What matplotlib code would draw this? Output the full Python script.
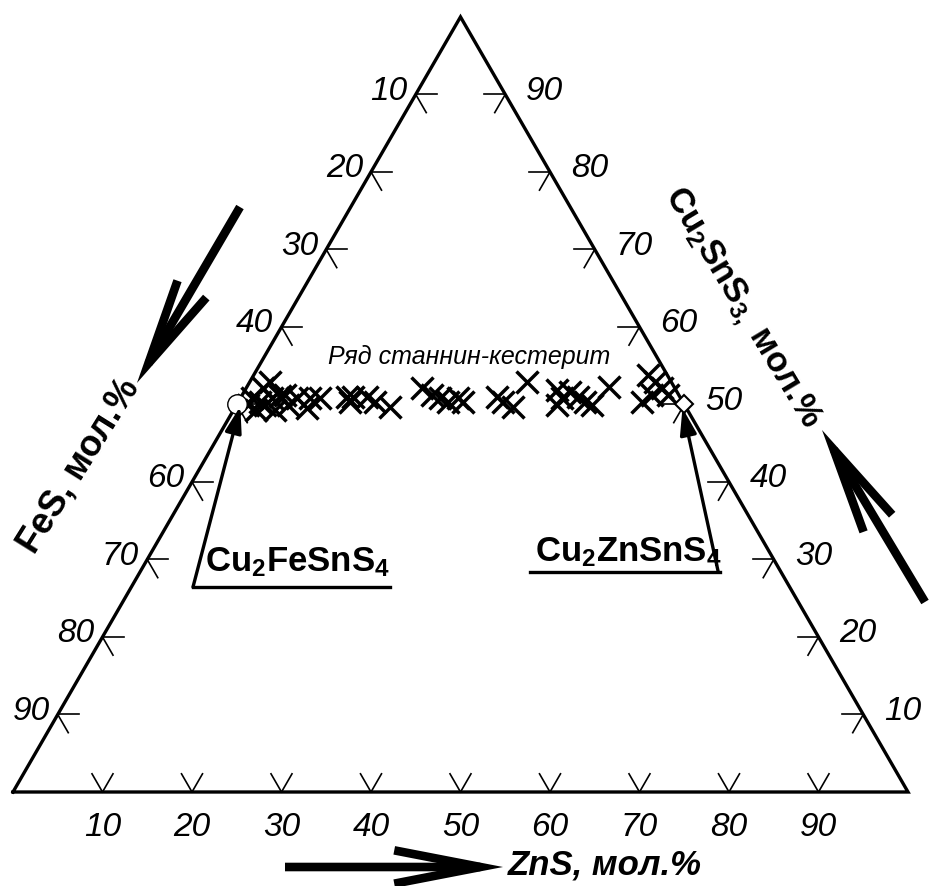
import numpy as np
import matplotlib
matplotlib.use("Agg")
import matplotlib.pyplot as plt
from matplotlib.patches import FancyArrowPatch, ArrowStyle

plt.rcParams['font.family'] = ['Liberation Sans', 'DejaVu Sans']
plt.rcParams['mathtext.fontset'] = 'custom'
plt.rcParams['mathtext.rm'] = 'Liberation Sans'
plt.rcParams['mathtext.it'] = 'Liberation Sans:italic'
plt.rcParams['mathtext.bf'] = 'Liberation Sans:bold'
plt.rcParams['mathtext.default'] = 'regular'

# Stannite-kesterite series compositions, mol.% (FeS = 100 - ZnS - Cu2SnS3)
ZNS = [1.3, 1.3, 2.5, 2.4, 1.9, 3.2, 2.3, 3.5, 4.6, 4.3, 4.8, 5.8, 6.3, 8.1, 7.8, 8.9,
       11.8, 12.5, 12.5, 14.1, 15.3, 17.3, 19.7, 21.2, 22.3, 23.4, 24.3, 25.1,
       28.6, 29.6, 31.0, 31.0, 34.8, 35.9, 35.8, 36.4, 37.6, 38.8, 39.7, 40.4,
       45.1, 44.0, 45.8, 45.3, 46.5, 47.6]
CU2SNS3 = [49.9, 50.8, 49.3, 50.3, 52.1, 49.9, 52.9, 50.8, 49.3, 51.1, 51.2, 49.9, 50.8, 49.5, 50.8, 50.8,
           51.0, 50.3, 51.0, 51.0, 50.3, 49.7, 52.1, 51.2, 50.8, 50.3, 50.8, 50.3,
           51.0, 50.3, 49.7, 52.9, 51.9, 50.8, 49.9, 51.6, 51.0, 50.3, 49.9, 52.3,
           50.3, 53.8, 51.2, 52.9, 52.1, 51.2]

# End members (ZnS, Cu2SnS3)
STANNITE = (0.0, 50.0)     # Cu2FeSnS4
KESTERITE = (50.0, 50.0)   # Cu2ZnSnS4

TICKS = [10, 20, 30, 40, 50, 60, 70, 80, 90]
LEFT_LABELS = [10, 20, 30, 40, 60, 70, 80, 90]


def to_xy(zns, cu):
    zns = np.asarray(zns, dtype=float) / 100.0
    cu = np.asarray(cu, dtype=float) / 100.0
    return zns + cu / 2.0, cu * np.sqrt(3) / 2.0


PX = 895.0  # pixels per unit side
fig = plt.figure(figsize=(9.36, 8.86), dpi=100)
ax = fig.add_axes([0, 0, 1, 1])
ax.set_xlim(-13 / PX, 923 / PX)
ax.set_ylim(-94 / PX, 792 / PX)
ax.axis('off')

# Triangle frame
tx, ty = to_xy([0, 100, 0, 0], [0, 0, 100, 0])
ax.plot(tx, ty, color='k', lw=2.4, solid_joinstyle='miter', zorder=3)

# Ticks: two short strokes along the grid directions at each tick
L = 21 / PX
tick_kw = dict(color='k', lw=1.2, zorder=3)
fs_tick = 24


def stroke(x0, y0, ang):
    a = np.deg2rad(ang)
    ax.plot([x0, x0 + L * np.cos(a)], [y0, y0 + L * np.sin(a)], **tick_kw)


for t in TICKS:
    # bottom edge: ZnS
    x0, y0 = to_xy(t, 0)
    stroke(x0, y0, 60)
    stroke(x0, y0, 120)
    ax.text(x0, y0 - 36 / PX, f"{t}", ha='center', va='center',
            fontsize=fs_tick, style='italic')
    # left edge: FeS (0 at top)
    x0, y0 = to_xy(0, 100 - t)
    stroke(x0, y0, 0)
    stroke(x0, y0, -60)
    if t in LEFT_LABELS:
        ax.text(x0 - 8 / PX, y0 + 3 / PX, f"{t}", ha='right', va='center',
                fontsize=fs_tick, style='italic')
    # right edge: Cu2SnS3
    x0, y0 = to_xy(100 - t, t)
    stroke(x0, y0, 180)
    stroke(x0, y0, 240)
    ax.text(x0 + 21 / PX, y0 + 3 / PX, f"{t}", ha='left', va='center',
            fontsize=fs_tick, style='italic')

# Data points
px_, py_ = to_xy(ZNS, CU2SNS3)
ax.plot(px_, py_, 'x', ms=15.5, mew=2.5, color='k', zorder=4)

sx, sy = to_xy(*STANNITE)
kx, ky = to_xy(*KESTERITE)
ax.plot(sx, sy, 'o', ms=14, mfc='white', mec='k', mew=1.0, zorder=5)
ax.plot(kx, ky, 'D', ms=9, mfc='white', mec='k', mew=1.5, zorder=5)

ax.text(0.51, 0.486, "Ряд станнин-кестерит", ha='center', va='center',
        fontsize=18, style='italic', zorder=6)

# End-member labels with leader lines
head = ArrowStyle('-|>', head_length=16, head_width=5)
ax.text(0.2145, 0.257, "Cu$_2$FeSnS$_4$", ha='left', va='center',
        fontsize=25, fontweight='bold')
ax.plot([0.2011, 0.421], [0.229, 0.229], color='k', lw=2.4)
ax.add_patch(FancyArrowPatch((0.2011, 0.229), (sx + 0.004, sy - 0.002),
                             arrowstyle=head, mutation_scale=1, lw=2.4,
                             color='k', shrinkA=0, shrinkB=0, zorder=6))

ax.text(0.583, 0.268, "Cu$_2$ZnSnS$_4$", ha='left', va='center',
        fontsize=25, fontweight='bold')
ax.plot([0.5777, 0.79], [0.2458, 0.2458], color='k', lw=2.4)
ax.add_patch(FancyArrowPatch((0.788, 0.2458), (kx - 0.002, ky - 0.004),
                             arrowstyle=head, mutation_scale=1, lw=2.4,
                             color='k', shrinkA=0, shrinkB=0, zorder=6))

# Axis titles with direction arrows
open_head = ArrowStyle('->', head_length=62, head_width=12)


def big_arrow(tail, tip):
    ax.add_patch(FancyArrowPatch(tail, tip, arrowstyle=open_head,
                                 mutation_scale=1, lw=6.2, color='k',
                                 shrinkA=0, shrinkB=0, joinstyle='miter',
                                 capstyle='butt', zorder=6))


big_arrow((0.2536, 0.6536), (0.1385, 0.4570))
ax.text(0.0735, 0.364, "FeS, мол.%", rotation=58, ha='center', va='center',
        fontsize=26, fontweight='bold', rotation_mode='anchor')

big_arrow((1.019, 0.2123), (0.9039, 0.4045))
ax.text(0.8135, 0.5408, "Cu$_2$SnS$_{3,}$ мол.%", rotation=-59, ha='center',
        va='center', fontsize=25, fontweight='bold', rotation_mode='anchor')

big_arrow((0.3039, -0.0838), (0.5475, -0.0838))
ax.text(0.661, -0.0816, "ZnS, мол.%", ha='center', va='center',
        fontsize=25, fontweight='bold', style='italic')

fig.savefig("out.png", dpi=100, facecolor='white')
